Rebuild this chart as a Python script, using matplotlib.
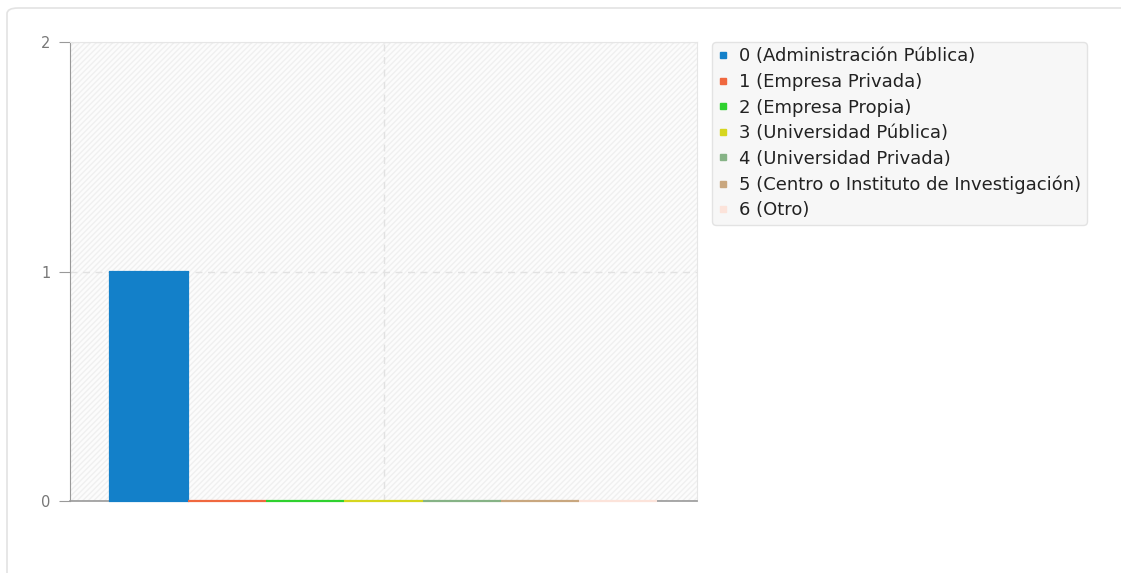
import numpy as np
import matplotlib
matplotlib.use('Agg')
import matplotlib.pyplot as plt
from matplotlib.lines import Line2D
from matplotlib.patches import FancyBboxPatch, Rectangle

categories = ['0 (Administración Pública)', '1 (Empresa Privada)', '2 (Empresa Propia)',
              '3 (Universidad Pública)', '4 (Universidad Privada)',
              '5 (Centro o Instituto de Investigación)', '6 (Otro)']
values = [1, 0, 0, 0, 0, 0, 0]
colors = ['#1380c9', '#f0683f', '#2fd12f', '#d6d61f', '#86b386', '#c9a77f', '#fce3da']
y_ticks = [0, 1, 2]

plt.rcParams['font.family'] = ['DejaVu Sans']

fig = plt.figure(figsize=(11.21, 5.73), dpi=100)

# outer card frame
card = FancyBboxPatch((7 / 1121, -0.05), 1.2, 1 - 8 / 573 + 0.05,
                      boxstyle='round,pad=0,rounding_size=0.01',
                      transform=fig.transFigure, facecolor='white',
                      edgecolor='#e3e3e3', linewidth=1.2, zorder=-5)
fig.patches.append(card)

ax = fig.add_axes([70 / 1121, 1 - 501 / 573, (697 - 70) / 1121, (501 - 42) / 573])
ax.set_facecolor('#fcfcfc')
ax.add_patch(Rectangle((0, 0), 1, 1, transform=ax.transAxes, facecolor='none',
                       edgecolor='#f0f0f0', hatch='//////', linewidth=0, zorder=0))

n = len(values)
width = 0.871 / n
x = -0.4355 + width * (np.arange(n) + 0.5)
bars = ax.bar(x, values, width=width, color=colors, edgecolor=colors, linewidth=1.6, zorder=3)
for b in bars:
    b.set_clip_on(False)

ax.set_xlim(-0.5, 0.5)
ax.set_ylim(0, 2)
ax.set_yticks(y_ticks)
ax.set_xticks([0])
ax.set_xticklabels([''])
ax.tick_params(axis='x', length=0)
ax.tick_params(axis='y', colors='#999999', labelcolor='#777777', labelsize=10.5, length=8, pad=6)
ax.grid(True, linestyle=(0, (5, 4)), color='#e2e2e2', linewidth=1, zorder=1)

ax.spines['left'].set_color('#999999')
ax.spines['bottom'].set_color('#999999')
ax.spines['bottom'].set_linewidth(1.2)
ax.spines['top'].set_color('#e6e6e6')
ax.spines['right'].set_color('#e6e6e6')

handles = [Line2D([], [], linestyle='none', marker='s', markersize=5,
                  markerfacecolor=c, markeredgecolor=c) for c in colors]
leg = fig.legend(handles, categories, loc='upper left',
                 bbox_to_anchor=(712 / 1121, 1 - 42 / 573), fontsize=13,
                 frameon=True, fancybox=True, shadow=False, handlelength=0.6,
                 handletextpad=0.6, labelspacing=0.42, borderpad=0.3,
                 borderaxespad=0)
frame = leg.get_frame()
frame.set_facecolor('#f7f7f7')
frame.set_edgecolor('#e3e3e3')
frame.set_alpha(1)
for t in leg.get_texts():
    t.set_color('#222222')

fig.savefig('out.png', dpi=100)
